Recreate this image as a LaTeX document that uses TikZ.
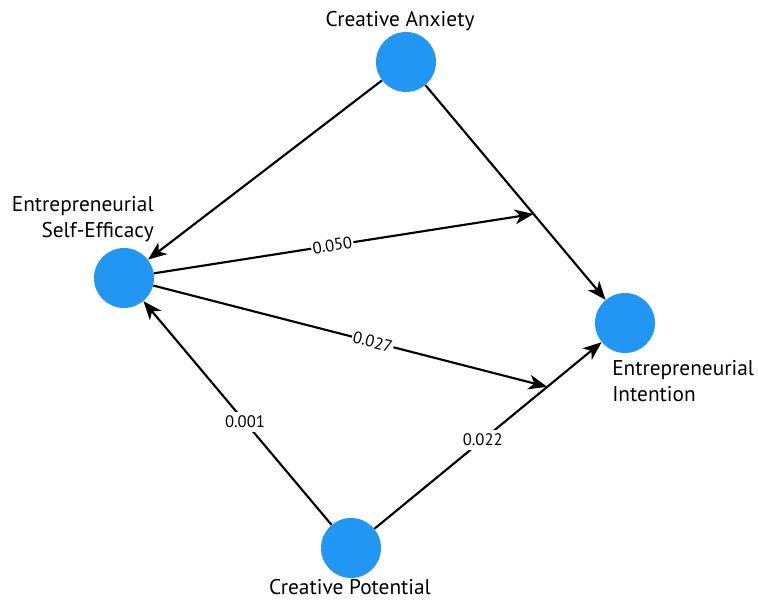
\documentclass[tikz,border=0pt]{standalone}
\usepackage{fontspec}
\setmainfont{PT Sans}
\usetikzlibrary{arrows.meta, positioning}
\definecolor{varblue}{RGB}{33,150,243}

\begin{document}
\begin{tikzpicture}[x=0.75pt, y=-0.75pt, >={Stealth[length=14pt,width=11pt,inset=4pt]}]
\tikzset{ var/.style={circle, fill=varblue, minimum size=45pt, inner sep=0pt},
          varname/.style={font=\fontsize{16}{19}\selectfont, inner sep=0pt},
          coef/.style={font=\fontsize{12.5}{14}\selectfont, fill=white, inner sep=3pt},
          link/.style={line width=1.6pt, ->} };
\useasboundingbox (0,0) rectangle (758,601);

% constructs
\node[var] (CA)  at (406,62)  {};
\node[var] (ESE) at (124,278) {};
\node[var] (EI)  at (625,323) {};
\node[var] (CP)  at (351,548) {};

\node[varname] (CAtxt) at (400,21) {Creative Anxiety};
\node[varname, align=right, anchor=east] (ESEtxt) at (154,219) {Entrepreneurial\\Self-Efficacy};
\node[varname, align=left, anchor=west] (EItxt) at (612,381) {Entrepreneurial\\Intention};
\node[varname] (CPtxt) at (350,587) {Creative Potential};

% direct paths
\draw[link] (CA) -- (ESE);
\draw[link] (CA) -- coordinate[pos=0.6] (m1) (EI);
\draw[link] (CP) -- node[coef, pos=0.46] (p1) {0.001} (ESE);
\draw[link] (CP) -- node[coef, pos=0.477] (p2) {0.022} coordinate[pos=0.761] (m2) (EI);

% paths onto the links
\draw[link] (ESE) -- node[coef, sloped, inner sep=1pt, pos=0.47] (p3) {0.050} (m1);
\draw[link] (ESE) -- node[coef, sloped, inner sep=1pt, pos=0.557] (p4) {0.027} (m2);

\end{tikzpicture}
\end{document}
